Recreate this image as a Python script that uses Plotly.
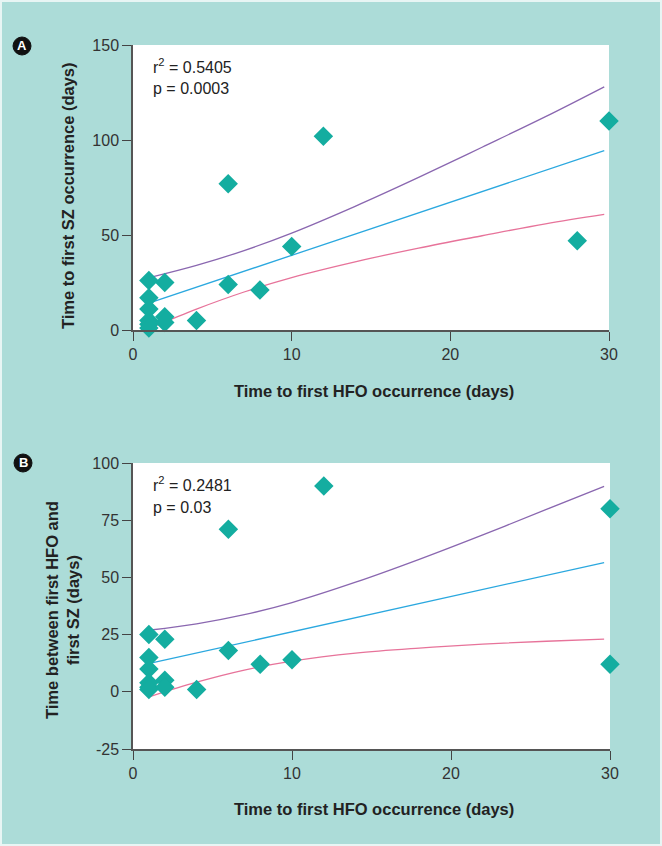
"""
Time to first HFO vs seizure onset: two scatter panels with linear fit and 95% bands.
"""

from __future__ import annotations

import plotly.graph_objects as go

from plotly.subplots import make_subplots

# Panel A: time to first HFO vs time to first SZ (days)
hfo_a = [1, 1, 1, 1, 1, 1, 2, 2, 2, 4, 6, 6, 8, 10, 12, 28, 30]
sz_a = [26, 17, 11, 5, 3, 1, 25, 7, 4, 5, 24, 77, 21, 44, 102, 47, 110]

# Panel B: time to first HFO vs time between first HFO and first SZ (days)
hfo_b = [1, 1, 1, 1, 1, 1, 2, 2, 2, 4, 6, 6, 8, 10, 12, 30, 30]
gap_b = [25, 15, 10, 4, 2, 1, 23, 5, 2, 1, 71, 18, 12, 14, 90, 80, 12]

# Fit line and confidence band
fit_x_a = [1.28, 4, 7, 10, 14, 18, 22, 26, 29.7]
upper_a = [28.1, 34.0, 41.8, 51.0, 65.1, 80.3, 96.2, 112.3, 128.0]
mean_a = [14.9, 22.5, 30.9, 39.3, 50.5, 61.7, 72.9, 84.1, 94.4]
lower_a = [1.7, 11.0, 20.0, 27.6, 35.9, 43.1, 49.6, 55.9, 60.8]

fit_x_b = [1.11, 4, 7, 10, 14, 18, 22, 26, 29.63]
upper_b = [27.0, 29.7, 33.7, 39.0, 47.9, 57.9, 68.6, 79.7, 89.8]
mean_b = [12.5, 16.95, 21.6, 26.2, 32.4, 38.5, 44.7, 50.9, 56.5]
lower_b = [-2.0, 4.2, 9.5, 13.4, 16.9, 19.1, 20.8, 22.1, 23.0]

x_ticks = [0, 10, 20, 30]
y_ticks_a = [0, 50, 100, 150]
y_ticks_b = [-25, 0, 25, 50, 75, 100]
y_labels_b = ['-25', '0', '25', '50', '75', '100']

stats_a = ['r<sup>2</sup> = 0.5405', 'p = 0.0003']
stats_b = ['r<sup>2</sup> = 0.2481', 'p = 0.03']

W, H = 662, 846
BG = '#acdcd8'
TEAL = '#14ada0'
PURPLE = '#8a67b0'
BLUE = '#2ba8df'
PINK = '#e7739a'
TICK_FONT = dict(family='Liberation Sans Narrow, Arial Narrow, Liberation Sans, Arial', size=16, color='#333')
TITLE_FONT = dict(family='Liberation Sans, Arial, sans-serif', size=16.5, color='#222')


def px(x):
    return x / W


def py(y):
    return 1 - y / H


fig = make_subplots(rows=2, cols=1)

panels = [
    (1, hfo_a, sz_a, fit_x_a, upper_a, mean_a, lower_a),
    (2, hfo_b, gap_b, fit_x_b, upper_b, mean_b, lower_b),
]
for row, xs, ys, fx, up, mid, lo in panels:
    fig.add_trace(go.Scatter(x=fx, y=up, mode='lines', line=dict(color=PURPLE, width=1.3, shape='spline')), row=row, col=1)
    fig.add_trace(go.Scatter(x=fx, y=mid, mode='lines', line=dict(color=BLUE, width=1.3)), row=row, col=1)
    fig.add_trace(go.Scatter(x=fx, y=lo, mode='lines', line=dict(color=PINK, width=1.3, shape='spline')), row=row, col=1)
    fig.add_trace(
        go.Scatter(
            x=xs, y=ys, mode='markers', cliponaxis=False,
            marker=dict(symbol='diamond', size=15, color=TEAL, line=dict(width=0)),
        ),
        row=row, col=1,
    )

axis_style = dict(
    showgrid=False, zeroline=False, showline=True, linecolor='#555', linewidth=1.5,
    ticks='outside', ticklen=9, tickwidth=1.2, tickcolor='#444', tickfont=TICK_FONT,
    automargin=False,
)

# Panel A axes
fig.update_xaxes(range=[0, 30], tickvals=x_ticks, domain=[px(133), px(609)], **axis_style, row=1, col=1)
fig.update_yaxes(range=[0, 150], tickvals=y_ticks_a, domain=[py(330), py(45)], **axis_style, row=1, col=1)
# Panel B axes
fig.update_xaxes(range=[0, 30], tickvals=x_ticks, domain=[px(133), px(610)], **axis_style, row=2, col=1)
fig.update_yaxes(range=[-25, 100], tickvals=y_ticks_b, ticktext=y_labels_b,
                 domain=[py(749), py(463)], **axis_style, row=2, col=1)

annotations = []
# Axis titles
annotations.append(dict(x=px(374), y=py(391), text='<b>Time to first HFO occurrence (days)</b>'))
annotations.append(dict(x=px(374), y=py(809), text='<b>Time to first HFO occurrence (days)</b>'))
annotations.append(dict(x=px(68), y=py(196), text='<b>Time to first SZ occurrence (days)</b>', textangle=-90))
annotations.append(dict(x=px(62), y=py(610), text='<b>Time between first HFO and<br>first SZ (days)</b>', textangle=-90))
for a in annotations:
    a.update(xref='paper', yref='paper', showarrow=False, font=TITLE_FONT,
             xanchor='center', yanchor='middle')

# Stats text
for texts, y0 in [(stats_a, 66), (stats_b, 484)]:
    for i, t in enumerate(texts):
        annotations.append(dict(
            x=px(151), y=py(y0 + 23 * i), xref='paper', yref='paper', xanchor='left', yanchor='middle',
            text=t, showarrow=False, font=dict(family='Liberation Sans, Arial', size=16, color='#222'),
        ))

# Panel letters in black circles
shapes = []
for letter, cx, cy in [('A', 22, 46), ('B', 23, 463)]:
    shapes.append(dict(type='circle', xref='paper', yref='paper',
                       x0=px(cx - 9), x1=px(cx + 9), y0=py(cy + 9), y1=py(cy - 9),
                       fillcolor='#111', line=dict(color='#111', width=1)))
    annotations.append(dict(x=px(cx), y=py(cy), xref='paper', yref='paper', text=f'<b>{letter}</b>',
                            xanchor='center', yanchor='middle', showarrow=False,
                            font=dict(family='Liberation Sans, Arial', size=13, color='white')))

# Thin light frame around the figure
shapes.append(dict(type='rect', xref='paper', yref='paper', x0=0, x1=1, y0=0, y1=1,
                   line=dict(color='#e8f5f4', width=4), layer='above'))

fig.update_layout(
    width=W, height=H,
    margin=dict(l=0, r=0, t=0, b=0),
    paper_bgcolor=BG, plot_bgcolor='white',
    showlegend=False,
    annotations=annotations,
    shapes=shapes,
)

# Drop the browser's default page margin so the figure sits at the window origin
fig.write_html(
    'out.html',
    config={'displayModeBar': False},
    post_script="document.body.style.margin = '0';",
)
